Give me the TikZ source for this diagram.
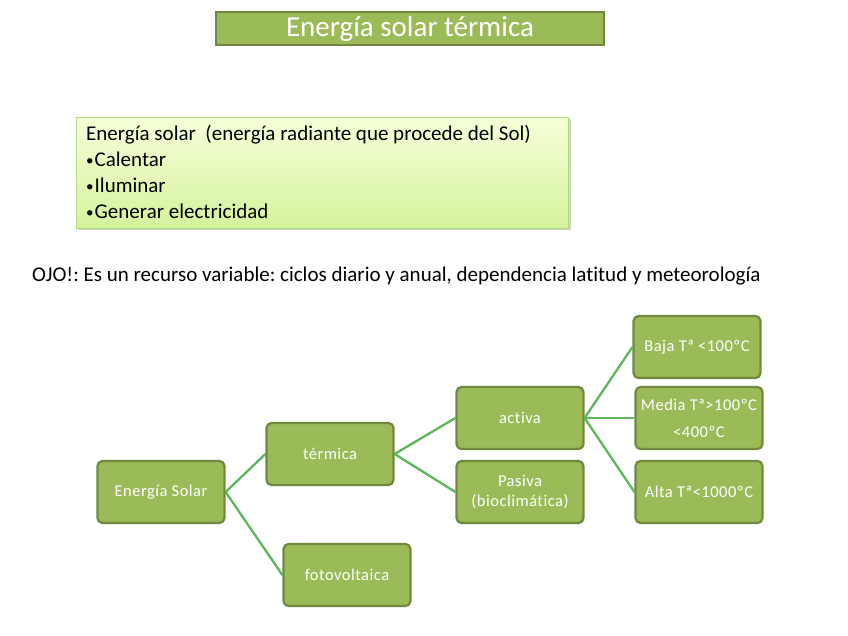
\documentclass[tikz,border=0pt]{standalone}
\usepackage{fontspec}
\setmainfont{Carlito}[Ligatures=NoCommon]
\frenchspacing
\usetikzlibrary{shadows}
\definecolor{boxfill}{HTML}{9BBB59}
\definecolor{boxline}{HTML}{71893F}
\definecolor{conn}{HTML}{5DB75D}
\definecolor{gtop}{HTML}{F6FFD8}
\definecolor{gbot}{HTML}{D4F39C}
\definecolor{gline}{HTML}{B5DC7A}
\newcommand{\bul}{{\fontsize{15}{15}\selectfont\raisebox{1.5pt}{•}}\hspace{1pt}}
\tikzset{
  gbox/.style={draw=boxline, line width=2.2pt, fill=boxfill, rounded corners=5pt,
    minimum width=127pt, minimum height=62pt, text=white, align=center,
    font=\fontsize{16.5}{20}\selectfont\addfontfeature{LetterSpace=3}, inner sep=2pt},
  conline/.style={draw=conn, line width=2.3pt},
}
\begin{document}
\begin{tikzpicture}[x=1pt,y=-1pt]
\useasboundingbox (0,0) rectangle (848,636);
\fill[white] (0,0) rectangle (848,636);
% title
\node[draw=boxline, line width=2pt, fill=boxfill, minimum width=388pt, minimum height=33pt,
  text=white, font=\fontsize{29}{30}\selectfont, inner sep=0pt] (title) at (410,29) {Energía solar térmica};
% text box
\node[draw=gline, line width=1pt, top color=gtop, bottom color=gbot, drop shadow={opacity=0.35, shadow xshift=2pt, shadow yshift=-2pt},
  minimum width=492pt, minimum height=111pt, inner sep=0pt] (info) at (322.5,173) {};
\node[anchor=north west, align=left, font=\fontsize{21}{26}\selectfont, inner sep=0pt] (infotext) at (86,125)
 {Energía solar \ (energía radiante que procede del Sol)\\
  \bul Calentar\\
  \bul Iluminar\\
  \bul Generar electricidad};
% OJO line
\node[anchor=west, font=\fontsize{21}{24}\selectfont, inner sep=0pt] (ojo) at (32,276)
 {OJO!: Es un recurso variable: ciclos diario y anual, dependencia latitud y meteorología};
% boxes
\node[gbox] (es) at (161,492) {Energía Solar};
\node[gbox] (ter) at (330,454) {térmica};
\node[gbox] (foto) at (347,575) {fotovoltaica};
\node[gbox] (act) at (520,418) {activa};
\node[gbox] (pas) at (520,492) {Pasiva\\(bioclimática)};
\node[gbox] (baja) at (697,347) {Baja Tª <100ºC};
\node[gbox] (media) at (699,418) {Media Tª>100ºC\\[7pt]<400ºC};
\node[gbox] (alta) at (699,492) {Alta Tª<1000ºC};
% connectors
\draw[conline] (es.east) -- (ter.west);
\draw[conline] (es.east) -- (foto.west);
\draw[conline] (ter.east) -- (act.west);
\draw[conline] (ter.east) -- (pas.west);
\draw[conline] (act.east) -- (baja.west);
\draw[conline] (act.east) -- (media.west);
\draw[conline] (act.east) -- (alta.west);
\end{tikzpicture}
\end{document}
